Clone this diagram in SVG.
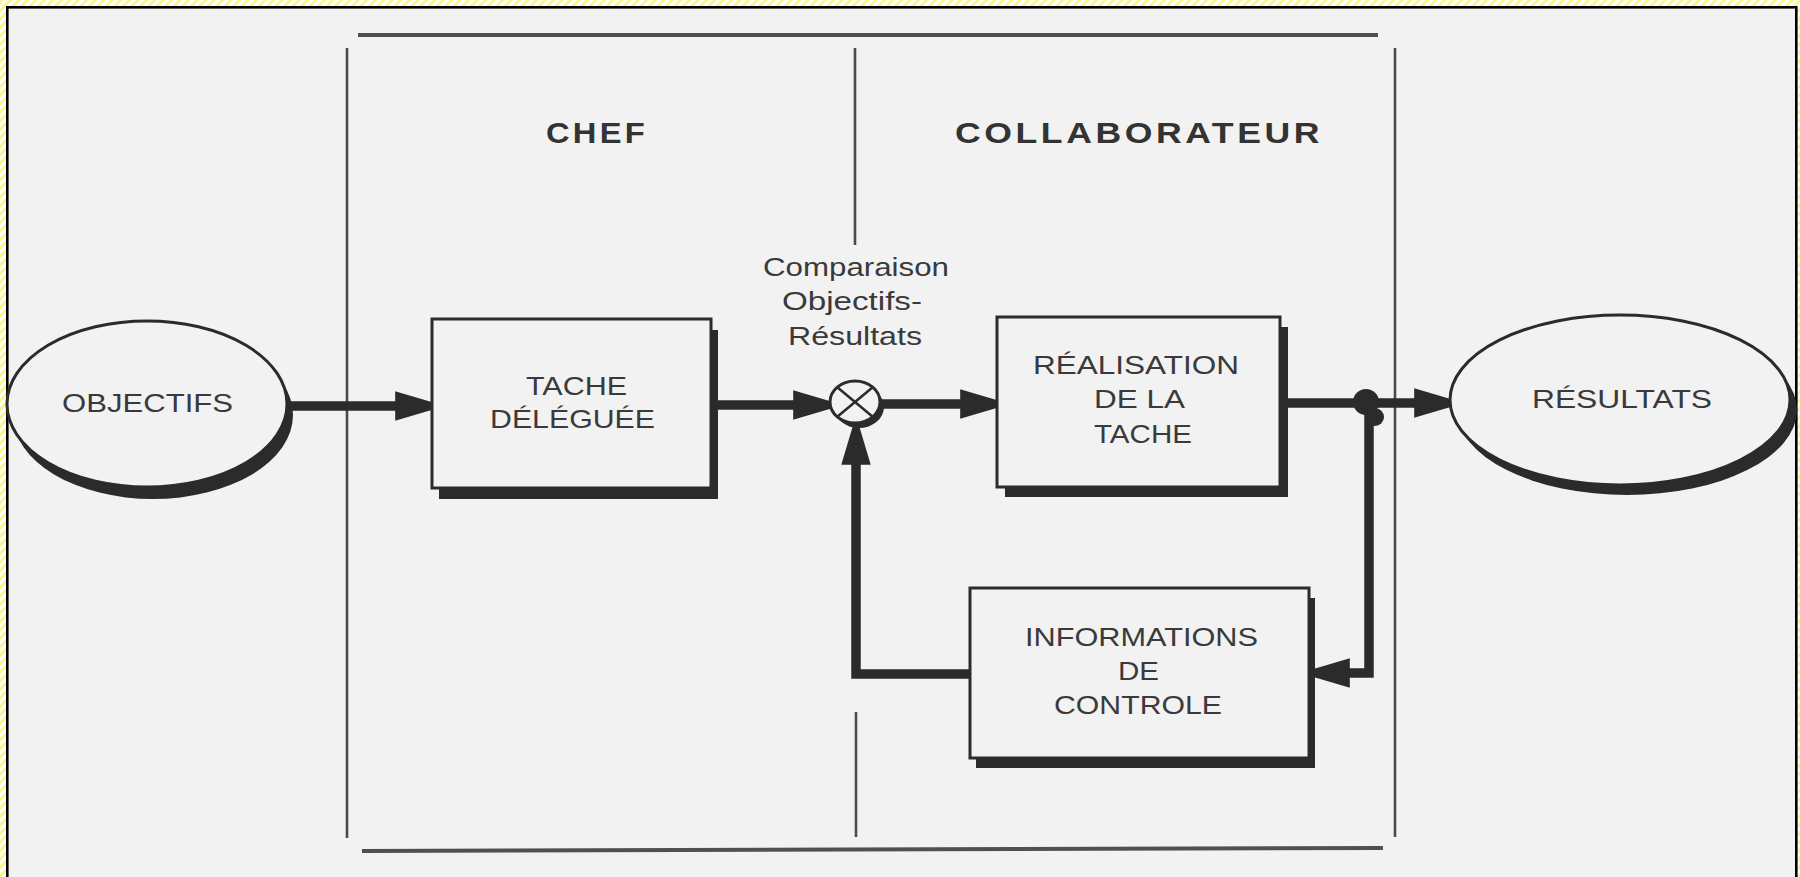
<svg xmlns="http://www.w3.org/2000/svg" width="1800" height="877" viewBox="0 0 1800 877">
  <defs>
    <pattern id="hatch" patternUnits="userSpaceOnUse" width="6" height="6" patternTransform="rotate(45)">
      <rect width="6" height="6" fill="#ffffff"/>
      <rect width="3" height="6" fill="#fbf58c"/>
    </pattern>
    <marker id="ah" markerUnits="userSpaceOnUse" markerWidth="40" markerHeight="30" viewBox="0 0 38 28" refX="16" refY="14" orient="auto">
      <path d="M0,0 L37,11 L37,17 L0,28 Z" fill="#2b2b2b"/>
    </marker>
    <style>
      .lane { stroke: #4a4a4a; stroke-width: 2.6; fill: none; }
      .laneh { stroke: #505050; stroke-width: 4; fill: none; }
      .shape { fill: #f2f2f2; stroke: #2b2b2b; stroke-width: 3; }
      .shadow { fill: #2b2b2b; stroke: none; }
      .conn { fill: none; stroke: #2b2b2b; stroke-width: 9.5; stroke-linejoin: miter; }
      .hdr { font-family: "Liberation Sans", Arial, sans-serif; font-weight: bold; font-size: 30px; letter-spacing: 3px; fill: #333333; }
      .lbl { font-family: "Liberation Sans", Arial, sans-serif; font-size: 25px; fill: #3a3a3a; }
    </style>
  </defs>

  <!-- frame -->
  <rect x="0" y="0" width="1800" height="877" fill="url(#hatch)"/>
  <rect x="7.3" y="7.3" width="1789" height="900" fill="#f2f2f2" stroke="#000000" stroke-width="2.6"/>

  <!-- swimlanes -->
  <g id="lanes">
    <line class="laneh" x1="358" y1="35" x2="1378" y2="35"/>
    <line class="laneh" x1="362" y1="851" x2="1383" y2="848"/>
    <line class="lane" x1="347" y1="48" x2="347" y2="838"/>
    <line class="lane" x1="1395" y1="48" x2="1395" y2="837"/>
    <line class="lane" x1="855" y1="48" x2="855" y2="245"/>
    <line class="lane" x1="856" y1="712" x2="856" y2="837"/>
    <text class="hdr" x="546" y="143" textLength="102" lengthAdjust="spacingAndGlyphs">CHEF</text>
    <text class="hdr" x="955" y="143" textLength="368" lengthAdjust="spacingAndGlyphs">COLLABORATEUR</text>
  </g>

  <!-- connectors -->
  <g id="connectors">
    <path class="conn" d="M287,406 L412,406" marker-end="url(#ah)"/>
    <path class="conn" d="M712,405 L810,405" marker-end="url(#ah)"/>
    <path class="conn" d="M880,404 L977,404" marker-end="url(#ah)"/>
    <path class="conn" d="M1281,403 L1431,403" marker-end="url(#ah)"/>
    <path class="conn" d="M1369,403 L1369,673 L1333,673" marker-end="url(#ah)"/>
    <path class="conn" d="M970,674 L856,674 L856,448" marker-end="url(#ah)"/>
    <circle cx="1366" cy="402" r="13" fill="#2b2b2b"/>
    <circle cx="1375" cy="417" r="9" fill="#2b2b2b"/>
  </g>

  <!-- OBJECTIFS -->
  <g id="objectifs">
    <ellipse class="shadow" cx="153" cy="415" rx="140" ry="84"/>
    <ellipse class="shape" cx="147" cy="404" rx="140" ry="83" stroke-width="2.5"/>
    <text class="lbl" x="62" y="412" font-size="26" textLength="171" lengthAdjust="spacingAndGlyphs">OBJECTIFS</text>
  </g>

  <!-- TACHE DELEGUEE -->
  <g id="tache-deleguee">
    <rect class="shadow" x="439" y="330" width="279" height="169"/>
    <rect class="shape" x="432" y="319" width="279" height="169"/>
    <text class="lbl" x="526" y="395" textLength="101" lengthAdjust="spacingAndGlyphs">TACHE</text>
    <text class="lbl" x="490" y="428" textLength="165" lengthAdjust="spacingAndGlyphs">DÉLÉGUÉE</text>
  </g>

  <!-- comparateur -->
  <g id="comparateur">
    <ellipse class="shadow" cx="859" cy="407" rx="25" ry="21"/>
    <ellipse class="shape" cx="855" cy="402" rx="25" ry="21" stroke-width="3"/>
    <line x1="837.3" y1="387.2" x2="872.7" y2="416.8" stroke="#2b2b2b" stroke-width="2.5"/>
    <line x1="872.7" y1="387.2" x2="837.3" y2="416.8" stroke="#2b2b2b" stroke-width="2.5"/>
    <text class="lbl" x="763" y="276" textLength="186" lengthAdjust="spacingAndGlyphs">Comparaison</text>
    <text class="lbl" x="782" y="310" textLength="140" lengthAdjust="spacingAndGlyphs">Objectifs-</text>
    <text class="lbl" x="788" y="345" textLength="134" lengthAdjust="spacingAndGlyphs">Résultats</text>
  </g>

  <!-- REALISATION DE LA TACHE -->
  <g id="realisation">
    <rect class="shadow" x="1005" y="327" width="283" height="170"/>
    <rect class="shape" x="997" y="317" width="283" height="170"/>
    <text class="lbl" x="1033" y="374" textLength="206" lengthAdjust="spacingAndGlyphs">RÉALISATION</text>
    <text class="lbl" x="1094" y="408" textLength="91" lengthAdjust="spacingAndGlyphs">DE  LA</text>
    <text class="lbl" x="1094" y="443" textLength="98" lengthAdjust="spacingAndGlyphs">TACHE</text>
  </g>

  <!-- INFORMATIONS DE CONTROLE -->
  <g id="informations">
    <rect class="shadow" x="976" y="598" width="339" height="170"/>
    <rect class="shape" x="970" y="588" width="339" height="170"/>
    <text class="lbl" x="1025" y="646" textLength="233" lengthAdjust="spacingAndGlyphs">INFORMATIONS</text>
    <text class="lbl" x="1118" y="680" textLength="41" lengthAdjust="spacingAndGlyphs">DE</text>
    <text class="lbl" x="1054" y="714" textLength="168" lengthAdjust="spacingAndGlyphs">CONTROLE</text>
  </g>

  <!-- RESULTATS -->
  <g id="resultats">
    <ellipse class="shadow" cx="1627" cy="410" rx="170" ry="85"/>
    <ellipse class="shape" cx="1620" cy="400" rx="170" ry="85" stroke-width="2.5"/>
    <text class="lbl" x="1532" y="408" font-size="27" textLength="180" lengthAdjust="spacingAndGlyphs">RÉSULTATS</text>
  </g>
</svg>
